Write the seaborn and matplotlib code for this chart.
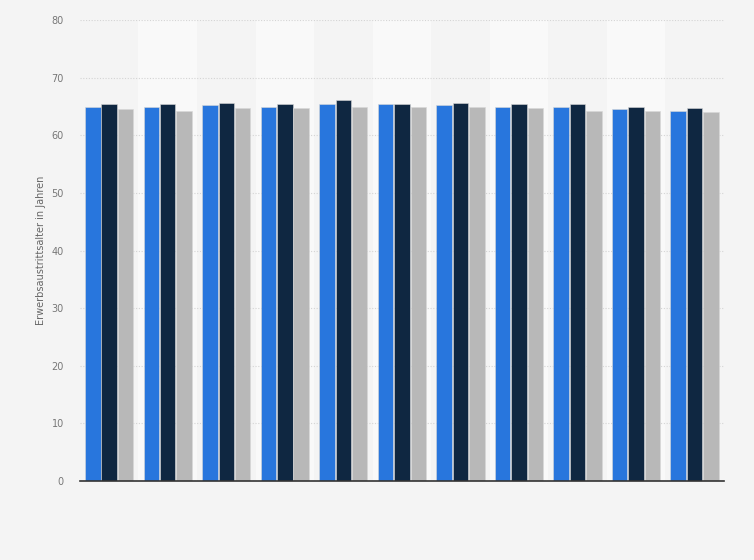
import pandas as pd
import seaborn as sns
import matplotlib.pyplot as plt

# Jahre (Achsenbeschriftung im Original nicht sichtbar)
jahre = ['2008', '2009', '2010', '2011', '2012', '2013', '2014', '2015', '2016', '2017', '2018']
gruppen = ['Insgesamt', 'Männer', 'Frauen']

insgesamt = [64.85, 64.85, 65.25, 65.0, 65.5, 65.4, 65.35, 65.0, 65.0, 64.5, 64.3]
maenner = [65.4, 65.4, 65.7, 65.4, 66.2, 65.5, 65.7, 65.4, 65.5, 64.85, 64.7]
frauen = [64.5, 64.3, 64.7, 64.7, 65.0, 65.0, 65.0, 64.7, 64.3, 64.15, 64.0]

farben = ['#2876dd', '#0f2741', '#b8b8b8']

df = pd.DataFrame({
    'jahr': jahre * 3,
    'gruppe': [gruppen[0]] * len(jahre) + [gruppen[1]] * len(jahre) + [gruppen[2]] * len(jahre),
    'wert': insgesamt + maenner + frauen,
})

sns.set_style("white")
fig = plt.figure(figsize=(7.54, 5.6), dpi=100, facecolor='#f4f4f4')
ax = fig.add_axes([0.106, 0.141, 0.854, 0.823])
ax.set_facecolor('#f4f4f4')

#Alternating column bands
for i in range(len(jahre)):
    if i % 2 == 1:
        ax.axvspan(i - 0.5, i + 0.5, color='#f9f9f9', zorder=0, lw=0)

sns.barplot(data=df, x='jahr', y='wert', hue='gruppe', palette=farben,
            saturation=1, width=0.84, gap=0.06, ax=ax, legend=False, zorder=3,
            edgecolor='#d8d8d8', linewidth=0.4)

ax.set_ylim(0, 80)
ax.set_xlim(-0.5, len(jahre) - 0.5)
ax.set_yticks(range(0, 81, 10))
ax.yaxis.grid(True, linestyle=(0, (1, 1.5)), color='#d4d4d4', linewidth=0.8, zorder=1)
ax.set_axisbelow(True)

ax.set_xticklabels([])
ax.set_xlabel('')
ax.set_ylabel('Erwerbsaustrittsalter in Jahren', fontsize=7, color='#666666', labelpad=4)
ax.tick_params(axis='y', length=0, labelsize=7, labelcolor='#777777', pad=11.5)
ax.tick_params(axis='x', length=0)

for s in ['top', 'right', 'left']:
    ax.spines[s].set_visible(False)
ax.spines['bottom'].set_color('#333333')
ax.spines['bottom'].set_linewidth(1.2)
ax.spines['bottom'].set_zorder(5)

fig.savefig('out.png', dpi=100, facecolor=fig.get_facecolor())
